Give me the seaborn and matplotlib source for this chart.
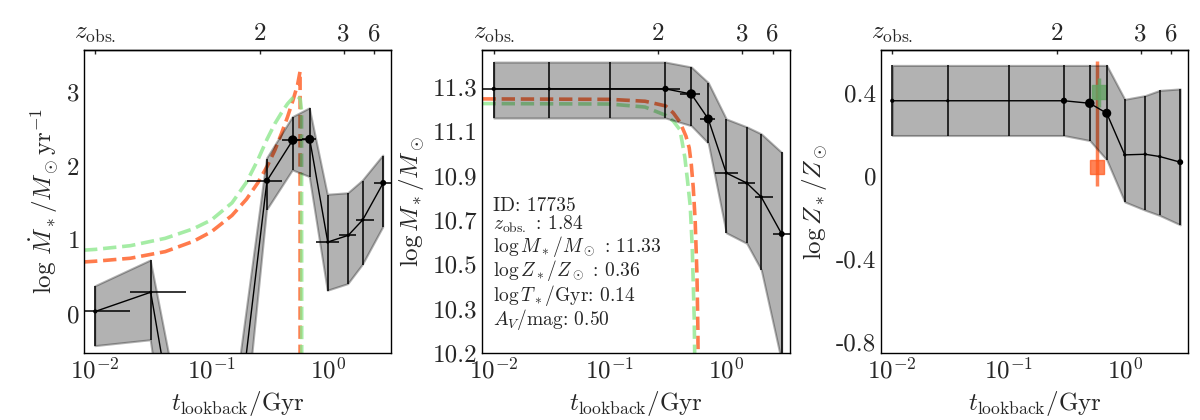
import numpy as np
import seaborn as sns
import matplotlib.pyplot as plt
from matplotlib.ticker import NullLocator, FixedLocator, FixedFormatter

# lookback-time bins (Gyr) and their edges
t_bins = [0.01, 0.03, 0.1, 0.3, 0.5, 0.7, 1.0, 1.5, 2.0, 3.0]
bin_edges = [0.0, 0.02, 0.06, 0.2, 0.4, 0.6, 0.8, 1.25, 1.75, 2.5, 3.5]
bin_weight = [3.0, 2.3, 0.0, 4.5, 6.8, 6.5, 2.4, 2.4, 2.4, 4.3]

# log SFR per bin (median, 16th, 84th)
sfr_med = [0.03, 0.29, -4.5, 1.80, 2.35, 2.36, 0.97, 1.06, 1.27, 1.77]
sfr_lo = [-0.44, -0.36, -6.0, 1.40, 1.94, 1.85, 0.31, 0.40, 0.66, 1.17]
sfr_hi = [0.37, 0.72, -3.5, 2.10, 2.66, 2.78, 1.61, 1.63, 1.80, 2.14]

# log stellar mass per bin
mass_med = [11.283, 11.283, 11.283, 11.283, 11.261, 11.154, 10.922, 10.879, 10.819, 10.66]
mass_lo = [11.158, 11.158, 11.158, 11.158, 11.125, 11.05, 10.665, 10.62, 10.506, 10.11]
mass_hi = [11.398, 11.398, 11.398, 11.398, 11.377, 11.31, 11.154, 11.12, 11.09, 11.01]

# log metallicity per bin
met_med = [0.361, 0.361, 0.361, 0.361, 0.349, 0.301, 0.101, 0.104, 0.093, 0.066]
met_lo = [0.194, 0.194, 0.194, 0.194, 0.17, 0.077, -0.125, -0.165, -0.19, -0.235]
met_hi = [0.531, 0.531, 0.531, 0.531, 0.531, 0.531, 0.368, 0.386, 0.411, 0.418]

# input models (orange / green)
t_sfr_a = [0.008, 0.01, 0.02, 0.04, 0.07, 0.1, 0.15, 0.2, 0.25, 0.3, 0.35, 0.4,
           0.45, 0.5, 0.55, 0.578, 0.578]
sfr_a = [0.70, 0.71, 0.75, 0.84, 0.98, 1.11, 1.33, 1.55, 1.77, 1.99, 2.21, 2.44,
         2.66, 2.88, 3.10, 3.28, -6.0]
t_sfr_b = [0.008, 0.01, 0.02, 0.04, 0.07, 0.1, 0.15, 0.2, 0.25, 0.3, 0.35, 0.4,
           0.45, 0.5, 0.55, 0.58, 0.595, 0.6]
sfr_b = [0.86, 0.87, 0.92, 1.02, 1.15, 1.27, 1.50, 1.78, 2.08, 2.36, 2.57, 2.72,
         2.84, 2.92, 2.95, 2.90, 2.75, -6.0]

t_mass_a = [0.008, 0.1, 0.2, 0.3, 0.35, 0.4, 0.45, 0.48, 0.5, 0.52, 0.54, 0.56, 0.57, 0.575]
mass_a = [11.24, 11.238, 11.23, 11.21, 11.18, 11.14, 11.08, 11.03, 10.96, 10.86, 10.72,
          10.48, 10.25, 10.0]
t_mass_b = [0.008, 0.1, 0.2, 0.3, 0.35, 0.4, 0.44, 0.464, 0.49, 0.51, 0.53, 0.54]
mass_b = [11.22, 11.218, 11.205, 11.17, 11.145, 11.107, 10.99, 10.89, 10.78, 10.6, 10.3, 10.0]

# input metallicities: t_form, value, lower, upper
met_true_a = [0.578, 0.045, -0.05, 0.55]
met_true_b = [0.6, 0.405, 0.33, 0.47]

# top axis: redshift marks
z_tick_t = [0.01, 0.26, 1.37, 2.5]
z_tick_labels = [r'$z_{\rm obs.}$', '2', '3', '6']

# y ticks
sfr_ticks = [0, 1, 2, 3]
mass_ticks = [10.15, 10.34, 10.53, 10.72, 10.91, 11.10, 11.29]
mass_tick_labels = ['10.2', '10.3', '10.5', '10.7', '10.9', '11.1', '11.3']
met_ticks = [0.4, 0.0, -0.4, -0.8]
met_tick_labels = ['0.4', '0', '-0.4', '-0.8']

info = ('ID: 17735\n'
        r'$z_{\rm obs.}$ : 1.84' '\n'
        r'$\log M_*/M_\odot$ : 11.33' '\n'
        r'$\log Z_*/Z_\odot$ : 0.36' '\n'
        r'$\log T_*/$Gyr: 0.14' '\n'
        r'$A_V/$mag: 0.50')

ORANGE = '#ff5a1f'
GREEN = '#8fe88f'

sns.set_style('white')
plt.rcParams['font.family'] = 'serif'
plt.rcParams['font.serif'] = ['cmr10']
plt.rcParams['mathtext.fontset'] = 'cm'
plt.rcParams['axes.formatter.use_mathtext'] = True
plt.rcParams['axes.unicode_minus'] = False
plt.rcParams['axes.edgecolor'] = 'k'
plt.rcParams['axes.linewidth'] = 1.0

fig, axes = plt.subplots(1, 3, figsize=(12, 4.2), dpi=100)
fig.subplots_adjust(left=0.07, right=0.99, bottom=0.16, top=0.881, wspace=0.298)

t = np.array(t_bins)
edges = np.array(bin_edges)
xerr = [t - edges[:-1], edges[1:] - t]
sizes = np.square(bin_weight)


def draw_panel(ax, med, lo, hi, with_xerr=True):
    med, lo, hi = np.array(med), np.array(lo), np.array(hi)
    ax.fill_between(t, lo, hi, color='k', alpha=0.3, lw=1.5, zorder=2)
    ax.errorbar(t, med, yerr=[med - lo, hi - med],
                xerr=xerr if with_xerr else None,
                fmt='none', ecolor='k', elinewidth=1.1, capsize=0, zorder=3)
    sns.lineplot(x=t, y=med, ax=ax, color='k', lw=1.0, sort=False,
                 estimator=None, zorder=4)
    ax.scatter(t, med, s=sizes, color='k', lw=0, zorder=5)


def style_axes(ax):
    ax.set_xscale('log')
    ax.set_xlim(0.008, 3.5)
    ax.tick_params(which='both', direction='in', top=False, right=False,
                   labelsize=18, width=1)
    ax.tick_params(which='major', length=5)
    ax.tick_params(which='minor', length=3)
    ax.yaxis.set_minor_locator(NullLocator())
    ax.set_xlabel(r'$t_{\rm lookback}/{\rm Gyr}$', fontsize=18)
    sec = ax.secondary_xaxis('top')
    sec.set_xticks(z_tick_t, labels=z_tick_labels)
    sec.xaxis.set_minor_locator(NullLocator())
    sec.tick_params(direction='in', length=3, labelsize=18, width=1)


# panel 1: SFR
ax = axes[0]
sns.lineplot(x=t_sfr_a, y=sfr_a, ax=ax, color=ORANGE, alpha=0.8, lw=2.6,
             linestyle='--', sort=False, estimator=None, zorder=1)
sns.lineplot(x=t_sfr_b, y=sfr_b, ax=ax, color=GREEN, alpha=0.8, lw=2.6,
             linestyle='--', sort=False, estimator=None, zorder=1)
draw_panel(ax, sfr_med, sfr_lo, sfr_hi)
style_axes(ax)
ax.set_ylim(-0.53, 3.57)
ax.set_yticks(sfr_ticks)
ax.set_ylabel(r'$\log\,\dot{M}_*/M_\odot{\rm yr}^{-1}$', fontsize=18)

# panel 2: stellar mass
ax = axes[1]
sns.lineplot(x=t_mass_a, y=mass_a, ax=ax, color=ORANGE, alpha=0.8, lw=2.6,
             linestyle='--', sort=False, estimator=None, zorder=1)
sns.lineplot(x=t_mass_b, y=mass_b, ax=ax, color=GREEN, alpha=0.8, lw=2.6,
             linestyle='--', sort=False, estimator=None, zorder=1)
draw_panel(ax, mass_med, mass_lo, mass_hi)
style_axes(ax)
ax.set_ylim(10.15, 11.45)
ax.yaxis.set_major_locator(FixedLocator(mass_ticks))
ax.yaxis.set_major_formatter(FixedFormatter(mass_tick_labels))
ax.set_ylabel(r'$\log M_*/M_\odot$', fontsize=18)
ax.text(0.035, 0.07, info, transform=ax.transAxes, fontsize=14,
        va='bottom', ha='left', linespacing=0.95)

# panel 3: metallicity
ax = axes[2]
for (tf, val, lo, hi), col, alpha in [(met_true_a, ORANGE, 0.75), (met_true_b, GREEN, 0.8)]:
    ax.errorbar([tf], [val], yerr=[[val - lo], [hi - val]], fmt='s', ms=10,
                color=col, alpha=alpha, elinewidth=2.5, capsize=0, zorder=1)
draw_panel(ax, met_med, met_lo, met_hi, with_xerr=False)
style_axes(ax)
ax.set_ylim(-0.85, 0.605)
ax.yaxis.set_major_locator(FixedLocator(met_ticks))
ax.yaxis.set_major_formatter(FixedFormatter(met_tick_labels))
ax.set_ylabel(r'$\log Z_*/Z_\odot$', fontsize=18)

plt.savefig('out.png', dpi=100)
